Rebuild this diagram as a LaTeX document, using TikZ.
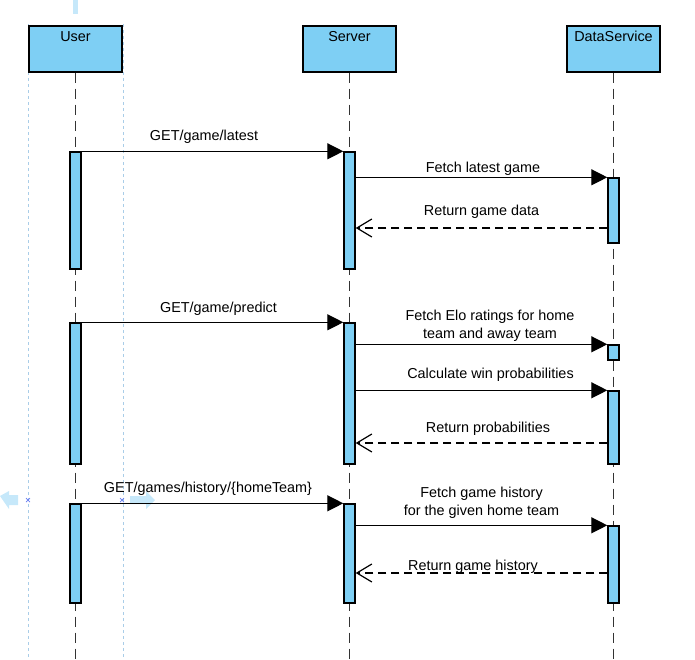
\documentclass[tikz,border=0pt]{standalone}
\usepackage{fontspec}
\setmainfont{Liberation Sans}
\usetikzlibrary{arrows.meta}
\definecolor{actfill}{HTML}{7ECFF4}
\definecolor{guideblue}{HTML}{A9CDE8}
\definecolor{handleblue}{HTML}{C6E8FA}
\definecolor{lifegray}{HTML}{333333}
\begin{document}
\begin{tikzpicture}[x=1pt,y=-1pt,
  every node/.style={font=\fontsize{14.4}{18}\selectfont, inner sep=0pt},
  head/.style={draw=black, line width=1.4pt, fill=actfill, minimum width=93pt, minimum height=46pt},
  headlabel/.style={anchor=base},
  act/.style={draw=black, line width=1.4pt, fill=actfill, minimum width=11pt},
  life/.style={draw=lifegray, line width=1.7pt, dash pattern=on 10pt off 6pt},
  call/.style={draw=black, line width=1.3pt, -{Triangle[length=16pt,width=16pt]}},
  reply/.style={draw=black, line width=1.3pt, dash pattern=on 8pt off 5pt, -{Straight Barb[length=15pt,width=18pt,line width=1.2pt]}},
  msglabel/.style={anchor=base, align=center},
  guide/.style={draw=guideblue, line width=0.8pt, dash pattern=on 3pt off 3pt},
  handle/.style={fill=handleblue, draw=none}
]
\useasboundingbox (0,0) rectangle (695,659);

% selection guides (editor artefacts visible in the picture)
\coordinate (g1a) at (28,24);  \coordinate (g1b) at (28,659);
\coordinate (g2a) at (123,24); \coordinate (g2b) at (123,659);
\draw[guide] (g1a) -- (g1b);
\draw[guide] (g2a) -- (g2b);
\fill[handle] (73,0) rectangle (78,14);
\fill[handle] (0,496) -- (9,491) -- (9,495) -- (18,495) -- (18,505) -- (9,505) -- (9,509) -- cycle;
\fill[handle] (155,500) -- (146,491) -- (146,496) -- (130,496) -- (130,504) -- (146,504) -- (146,509) -- cycle;
\draw[guideblue!60!blue, line width=0.7pt] (26,498) -- (30,502) (26,502) -- (30,498);
\draw[guideblue!60!blue, line width=0.7pt] (120,498) -- (124,502) (120,502) -- (124,498);

% lifeline heads
\node[head] (user)   at (75.5,49)  {};
\node[head] (server) at (349.5,49) {};
\node[head] (ds)     at (613.5,49) {};
\node[headlabel] (userl)   at (75.5,41)  {User};
\node[headlabel] (serverl) at (349.5,41) {Server};
\node[headlabel] (dsl)     at (613.5,41) {DataService};

% lifelines
\coordinate (uend) at (75.5,659);
\coordinate (send) at (349.5,659);
\coordinate (dend) at (613.5,659);
\draw[life] (user.south) -- (uend);
\draw[life] (server.south) -- (send);
\draw[life] (ds.south) -- (dend);

% activations
\node[act, minimum height=117pt] (ua1) at (75.5,210.5) {};
\node[act, minimum height=141pt] (ua2) at (75.5,393.5) {};
\node[act, minimum height=99pt]  (ua3) at (75.5,553.5) {};
\node[act, minimum height=117pt] (sa1) at (349.5,210.5) {};
\node[act, minimum height=141pt] (sa2) at (349.5,393.5) {};
\node[act, minimum height=99pt]  (sa3) at (349.5,553.5) {};
\node[act, minimum height=65pt]  (da1) at (613.5,210.5) {};
\node[act, minimum height=15pt]  (da2) at (613.5,352.5) {};
\node[act, minimum height=73pt]  (da3) at (613.5,427.5) {};
\node[act, minimum height=77pt]  (da4) at (613.5,564.5) {};

% message levels
\coordinate (y3)  at (0,228);
\coordinate (y7)  at (0,443);
\coordinate (y10) at (0,573);

% messages
\draw[call] (ua1.north east) -- (sa1.north west);
\node[msglabel] (m1) at (204,140) {GET/game/latest};

\draw[call] (sa1.east |- da1.north) -- (da1.north west);
\node[msglabel] (m2) at (483,172) {Fetch latest game};

\draw[reply] (da1.west |- y3) -- (sa1.east |- y3);
\node[msglabel] (m3) at (481.5,215) {Return game data};

\draw[call] (ua2.north east) -- (sa2.north west);
\node[msglabel] (m4) at (218.5,312) {GET/game/predict};

\draw[call] (sa2.east |- da2.north) -- (da2.north west);
\node[msglabel] (m5) at (490,338) {Fetch Elo ratings for home\\team and away team};

\draw[call] (sa2.east |- da3.north) -- (da3.north west);
\node[msglabel] (m6) at (490.5,378) {Calculate win probabilities};

\draw[reply] (da3.west |- y7) -- (sa2.east |- y7);
\node[msglabel] (m7) at (488,432.5) {Return probabilities};

\draw[call] (ua3.north east) -- (sa3.north west);
\node[msglabel] (m8) at (208,492) {GET/games/history/\{homeTeam\}};

\draw[call] (sa3.east |- da4.north) -- (da4.north west);
\node[msglabel] (m9) at (481.5,515) {Fetch game history\\for the given home team};

\draw[reply] (da4.west |- y10) -- (sa3.east |- y10);
\node[msglabel] (m10) at (473,570.5) {Return game history};
\end{tikzpicture}
\end{document}
